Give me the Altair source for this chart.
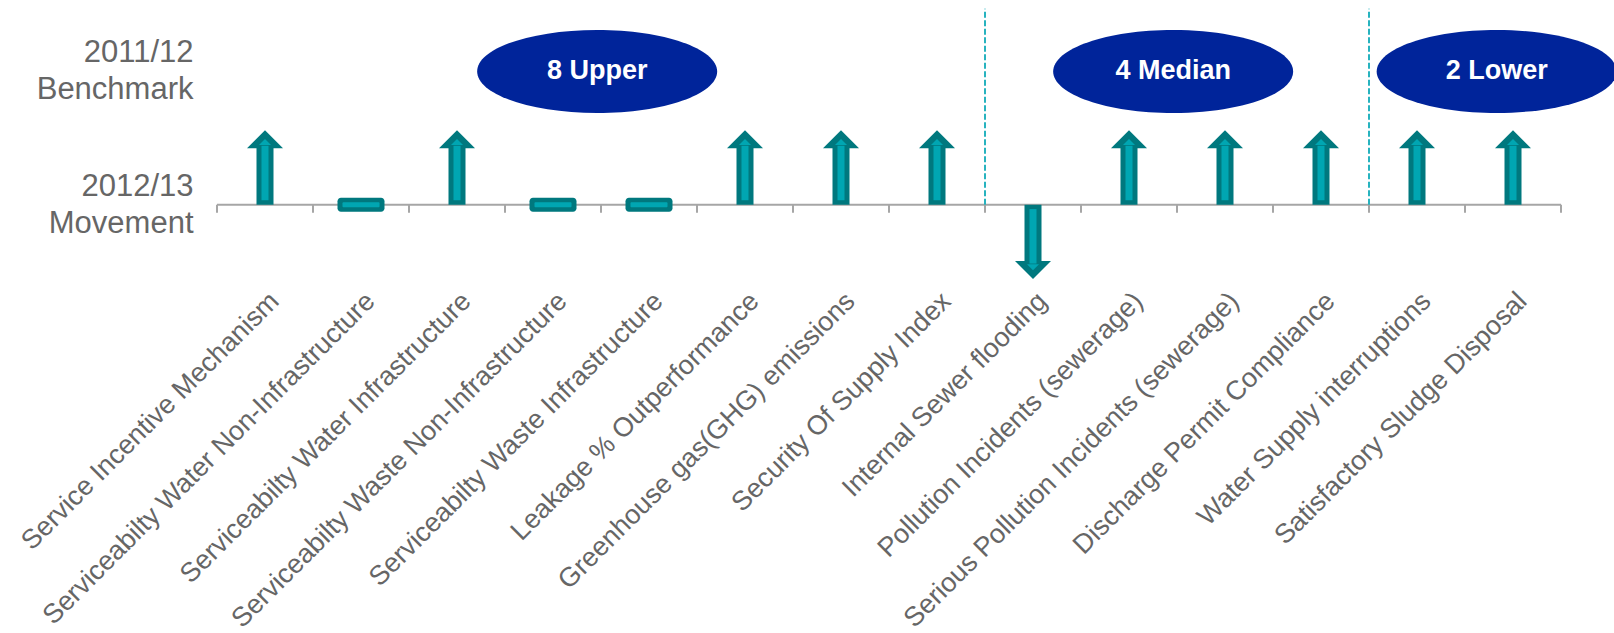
import json
import altair as alt
import pandas as pd

# ---------------- data ----------------
categories = [
    "Service Incentive Mechanism",
    "Serviceabilty Water Non-Infrastructure",
    "Serviceabilty Water Infrastructure",
    "Serviceabilty Waste Non-Infrastructure",
    "Serviceabilty Waste Infrastructure",
    "Leakage % Outperformance",
    "Greenhouse gas(GHG) emissions",
    "Security Of Supply Index",
    "Internal Sewer flooding",
    "Pollution Incidents (sewerage)",
    "Serious Pollution Incidents (sewerage)",
    "Discharge Permit Compliance",
    "Water Supply interruptions",
    "Satisfactory Sludge Disposal",
]
# +1 improved, 0 unchanged, -1 worse
movement = [1, 0, 1, 0, 0, 1, 1, 1, -1, 1, 1, 1, 1, 1]

group_labels = ["8 Upper", "4 Median", "2 Lower"]
group_sizes = [8, 4, 2]
group_label_pos = [3.96, 9.96, 13.33]   # ellipse centres along the category axis

row_values = [0.0, 1.81]
row_labels = [["2012/13", "Movement"], ["2011/12", "Benchmark"]]

# ---------------- styles ----------------
DARK = "#00787E"
LIGHT = "#00A6B2"
NAVY = "#00249A"
GREY_TXT = "#666666"
AXIS_GREY = "#A6A6A6"
DIVIDER = "#27B3BF"
FONT = "Liberation Sans"

W, H = 1354, 293
Y_DOMAIN = [-1.2, 2.78]
n = len(categories)

main = pd.DataFrame({
    "cat": categories,
    "pos": [i + 0.5 for i in range(n)],
    "move": movement,
})
groups = pd.DataFrame({"label": group_labels, "pos": group_label_pos, "row": [row_values[1]] * 3})
bounds = []
acc = 0
for s in group_sizes[:-1]:
    acc += s
    bounds.append(acc)
dividers = pd.DataFrame({"x": bounds, "y0": [0.0] * len(bounds), "y1": [2.66] * len(bounds)})
domain_line = pd.DataFrame({"x0": [0], "x1": [n], "y": [0.0]})
ticks = pd.DataFrame({"x": list(range(n + 1)), "y0": [0.0] * (n + 1), "y1": [-0.11] * (n + 1)})

xscale = alt.Scale(domain=[0, n], nice=False, zero=False)
yscale = alt.Scale(domain=Y_DOMAIN, nice=False, zero=False)

label_expr = json.dumps(categories) + "[floor(datum.value)]"
xaxis = alt.Axis(
    values=[i + 0.5 for i in range(n)], labelExpr=label_expr, labelAngle=-45,
    labelAlign="right", labelBaseline="top", labelFontSize=27, labelFont=FONT,
    labelColor=GREY_TXT, labelPadding=-5.5, labelOverlap=False, labelFlush=False,
    labelBound=False, domain=False, ticks=False, grid=False, title=None, labelLimit=0,
)
yaxis = alt.Axis(
    values=row_values,
    labelExpr="datum.value < 1 ? " + json.dumps(row_labels[0]) + " : " + json.dumps(row_labels[1]),
    labelFontSize=31, labelFont=FONT, labelColor=GREY_TXT, labelLineHeight=37,
    labelPadding=19, labelBaseline="middle", labelOffset=-18.5, domain=False, ticks=False,
    grid=False, title=None, labelLimit=0,
)

base = alt.Chart(main)

# axis line and ticks
dom = alt.Chart(domain_line).mark_rule(color=AXIS_GREY, strokeWidth=2).encode(
    x=alt.X("x0:Q", scale=xscale, axis=xaxis), x2="x1:Q",
    y=alt.Y("y:Q", scale=yscale, axis=yaxis))
tck = alt.Chart(ticks).mark_rule(color=AXIS_GREY, strokeWidth=2).encode(
    x=alt.X("x:Q", scale=xscale), y=alt.Y("y0:Q", scale=yscale), y2="y1:Q")
div = alt.Chart(dividers).mark_rule(color=DIVIDER, strokeWidth=2, strokeDash=[6, 2.5]).encode(
    x=alt.X("x:Q", scale=xscale), y=alt.Y("y0:Q", scale=yscale), y2="y1:Q")

arrows = base.transform_filter("datum.move != 0").transform_calculate(
    s0="0", s1="datum.move*0.77", i0="datum.move*0.06", i1="datum.move*0.80",
    hy="datum.move*0.887", ty="datum.move*0.85",
    dir="datum.move > 0 ? 'up' : 'down'")

head_shape = alt.Shape("dir:N", legend=None, scale=alt.Scale(
    domain=["up", "down"],
    range=["M -1 0.5 L 0 -0.5 L 1 0.5 Z", "M -1 -0.5 L 0 0.5 L 1 -0.5 Z"]))
tip_shape = alt.Shape("dir:N", legend=None, scale=alt.Scale(
    domain=["up", "down"],
    range=["M -1 0.8 L 0 -0.8 L 1 0.8 Z", "M -1 -0.8 L 0 0.8 L 1 -0.8 Z"]))

shaft = arrows.mark_bar(size=17, color=DARK).encode(
    x=alt.X("pos:Q", scale=xscale), y=alt.Y("s0:Q", scale=yscale), y2="s1:Q")
head = arrows.mark_point(filled=True, opacity=1, size=1296, color=DARK, strokeWidth=0).encode(
    x=alt.X("pos:Q", scale=xscale), y=alt.Y("hy:Q", scale=yscale), shape=head_shape)
inner = arrows.mark_bar(size=7, color=LIGHT).encode(
    x=alt.X("pos:Q", scale=xscale), y=alt.Y("i0:Q", scale=yscale), y2="i1:Q")
tip = arrows.mark_point(filled=True, opacity=1, size=144, color=LIGHT, strokeWidth=0).encode(
    x=alt.X("pos:Q", scale=xscale), y=alt.Y("ty:Q", scale=yscale), shape=tip_shape)

flats = base.transform_filter("datum.move == 0").transform_calculate(
    o0="-0.095", o1="0.095", n0="-0.034", n1="0.034")
flat_outer = flats.mark_bar(size=47, color=DARK, cornerRadius=3.5).encode(
    x=alt.X("pos:Q", scale=xscale), y=alt.Y("o0:Q", scale=yscale), y2="o1:Q")
flat_inner = flats.mark_bar(size=37, color=LIGHT, cornerRadius=1).encode(
    x=alt.X("pos:Q", scale=xscale), y=alt.Y("n0:Q", scale=yscale), y2="n1:Q")

ELLIPSE = "M -1 0 A 1 0.346 0 1 1 1 0 A 1 0.346 0 1 1 -1 0 Z"
ell = alt.Chart(groups).mark_point(shape=ELLIPSE, filled=True, opacity=1, size=57600,
                                   color=NAVY, strokeWidth=0).encode(
    x=alt.X("pos:Q", scale=xscale), y=alt.Y("row:Q", scale=yscale))
ell_txt = alt.Chart(groups).mark_text(color="white", fontSize=27, fontWeight="bold", font=FONT,
                                      baseline="middle", align="center").encode(
    x=alt.X("pos:Q", scale=xscale), y=alt.Y("row:Q", scale=yscale), text="label:N")

chart = alt.layer(
    dom, tck, div, shaft, head, inner, tip, flat_outer, flat_inner, ell, ell_txt
).properties(
    width=W, height=H,
    autosize=alt.AutoSizeParams(type="none"),
    padding={"left": 212, "top": 0, "right": 1614 - 212 - W, "bottom": 633 - H},
    background="white",
).configure_view(stroke=None)

chart.save("out.html", embed_options={"renderer": "svg", "actions": False})
